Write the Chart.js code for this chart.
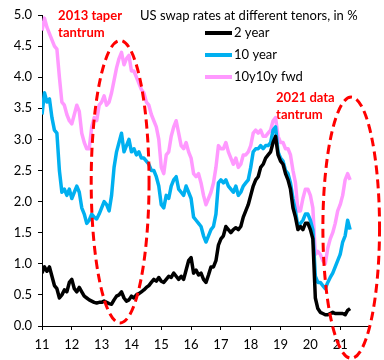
<!DOCTYPE html>
<html>
<head>
<meta charset="utf-8">
<script src="https://cdn.jsdelivr.net/npm/chart.js@4.4.1/dist/chart.umd.min.js"></script>
<style>
  html, body { margin: 0; padding: 0; background: #fff; }
  #wrap { width: 384px; height: 360px; }
</style>
</head>
<body>
<div id="wrap"><canvas id="chart" width="384" height="360"></canvas></div>
<script>
// monthly observations, first one = Jan 2011 (axis shows two-digit years)
const startYear = 11;
const xTickLabels = [11, 12, 13, 14, 15, 16, 17, 18, 19, 20, 21];
const yTickLabels = ['0.0','0.5','1.0','1.5','2.0','2.5','3.0','3.5','4.0','4.5','5.0'];
const seriesNames = ['2 year', '10 year', '10y10y fwd'];
const seriesColors = ['#000000', '#00B0F0', '#FF99FF'];
const chartTitle = 'US swap rates at different tenors, in %';

const swap2y = [
  0.85,0.95,0.88,0.95,0.80,0.65,0.60,0.45,0.50,0.58,0.55,0.70,
  0.75,0.60,0.55,0.62,0.55,0.48,0.45,0.42,0.40,0.38,0.37,0.38,
  0.38,0.40,0.38,0.36,0.35,0.42,0.48,0.50,0.55,0.45,0.40,0.42,
  0.48,0.45,0.50,0.52,0.55,0.58,0.62,0.65,0.70,0.75,0.72,0.78,
  0.72,0.70,0.75,0.80,0.78,0.85,0.80,0.75,0.80,0.75,0.90,1.05,
  1.10,0.85,0.90,0.82,0.85,0.75,0.70,0.82,0.95,0.95,1.05,1.30,
  1.40,1.45,1.60,1.55,1.50,1.55,1.58,1.55,1.60,1.75,1.85,1.95,
  2.10,2.25,2.35,2.40,2.55,2.60,2.70,2.75,2.80,2.95,3.05,2.75,
  2.65,2.60,2.45,2.35,2.20,1.90,1.75,1.55,1.60,1.55,1.65,1.65,
  1.55,1.40,0.45,0.28,0.22,0.20,0.18,0.18,0.20,0.22,0.20,0.20,
  0.20,0.20,0.18,0.25,0.28
];
const swap10y = [
  3.40,3.75,3.60,3.65,3.35,3.15,3.10,2.50,2.15,2.20,2.10,2.20,
  2.05,2.15,2.25,2.15,1.90,1.80,1.65,1.70,1.80,1.75,1.72,1.80,
  1.90,2.00,1.95,1.85,2.10,2.55,2.80,2.95,3.10,2.80,2.90,3.00,
  2.80,2.85,2.75,2.80,2.70,2.70,2.65,2.60,2.50,2.50,2.40,2.25,
  1.95,1.90,2.10,2.05,2.25,2.35,2.40,2.20,2.15,2.10,2.25,2.15,
  2.05,1.75,1.70,1.65,1.60,1.45,1.35,1.45,1.55,1.60,1.80,2.30,
  2.35,2.30,2.35,2.25,2.20,2.15,2.25,2.10,2.15,2.25,2.30,2.35,
  2.55,2.80,2.85,2.85,2.90,2.85,2.90,2.90,2.95,3.15,3.20,2.80,
  2.70,2.65,2.50,2.45,2.30,2.05,1.85,1.60,1.65,1.70,1.80,1.80,
  1.70,1.55,0.80,0.70,0.70,0.65,0.60,0.70,0.78,0.85,0.95,1.05,
  1.15,1.35,1.45,1.70,1.55
];
const fwd10y10y = [
  4.75,4.95,4.80,4.70,4.60,4.50,4.45,4.00,3.60,3.55,3.40,3.30,
  3.25,3.40,3.55,3.45,3.10,2.95,2.85,2.85,3.20,3.35,3.30,3.55,
  3.60,3.70,3.55,3.60,3.75,3.95,4.15,4.30,4.40,4.20,4.30,4.35,
  4.10,4.10,4.00,3.90,3.80,3.75,3.60,3.55,3.40,3.30,3.20,3.00,
  2.55,2.45,2.75,2.80,3.05,3.20,3.30,3.10,2.90,2.85,2.95,2.80,
  2.70,2.45,2.40,2.45,2.30,2.10,1.95,2.05,2.15,2.30,2.55,2.90,
  2.85,2.85,2.95,2.80,2.70,2.60,2.70,2.55,2.60,2.75,2.75,2.80,
  2.90,3.10,3.15,3.10,3.15,3.05,3.05,3.10,3.15,3.30,3.35,3.05,
  2.95,2.95,2.85,2.85,2.75,2.50,2.30,1.85,1.85,2.05,2.20,2.20,
  2.10,1.90,1.15,1.20,1.15,1.05,1.00,1.25,1.40,1.50,1.65,1.85,
  1.95,2.10,2.35,2.45,2.35
];

// red dashed rings, in data units (centre year, centre rate, half-widths)
const tantrums = [
  { x: 13.62, y: 2.32, rx: 0.97, ry: 2.27, text: ['2013 taper', 'tantrum'], tx: 11.54, ty: 4.99 },
  { x: 21.37, y: 1.58, rx: 0.95, ry: 2.10, text: ['2021 data', 'tantrum'], tx: 18.85, ty: 3.67 }
];

const toPoints = arr => arr.map((v, i) => ({ x: startYear + i / 12, y: v }));
const allSeries = [swap2y, swap10y, fwd10y10y];

const overlayPlugin = {
  id: 'overlay',
  afterDatasetsDraw(chart) {
    const { ctx, scales: { x, y } } = chart;
    ctx.save();
    ctx.strokeStyle = '#FF0000';
    ctx.lineWidth = 3;
    ctx.setLineDash([9, 5]);
    tantrums.forEach(t => {
      const cx = x.getPixelForValue(t.x);
      const cy = y.getPixelForValue(t.y);
      const rx = Math.abs(x.getPixelForValue(t.x + t.rx) - cx);
      const ry = Math.abs(y.getPixelForValue(t.y + t.ry) - cy);
      ctx.beginPath();
      ctx.ellipse(cx, cy, rx, ry, 0, 0, Math.PI * 2);
      ctx.stroke();
    });
    ctx.setLineDash([]);
    ctx.fillStyle = '#FF0000';
    ctx.font = 'bold 13px Lato';
    ctx.textBaseline = 'middle';
    tantrums.forEach(t => {
      const px = x.getPixelForValue(t.tx);
      const py = y.getPixelForValue(t.ty);
      t.text.forEach((line, k) => ctx.fillText(line, px, py + k * 17));
    });
    ctx.restore();
  },
  afterDraw(chart) {
    const { ctx } = chart;
    ctx.save();
    ctx.fillStyle = '#000';
    ctx.font = '13px Lato';
    ctx.textBaseline = 'middle';
    ctx.fillText(chartTitle, 140, 16);
    // legend
    chart.data.datasets.forEach((ds, i) => {
      const ly = 33 + i * 22;
      ctx.strokeStyle = ds.borderColor;
      ctx.lineWidth = 4;
      ctx.beginPath();
      ctx.moveTo(205, ly);
      ctx.lineTo(232, ly);
      ctx.stroke();
      ctx.fillText(ds.label, 234, ly);
    });
    ctx.restore();
  }
};

new Chart(document.getElementById('chart'), {
  type: 'line',
  data: {
    datasets: allSeries.map((arr, i) => ({
      label: seriesNames[i],
      data: toPoints(arr),
      borderColor: seriesColors[i],
      borderWidth: 3.5,
      pointRadius: 0,
      tension: 0,
      borderJoinStyle: 'round'
    }))
  },
  options: {
    responsive: false,
    animation: false,
    layout: { padding: { top: 15, right: 14, left: 0, bottom: 0 } },
    plugins: { legend: { display: false }, tooltip: { enabled: false } },
    scales: {
      x: {
        type: 'linear',
        min: 11,
        max: 22,
        afterFit: s => { s.height = 34; },
        afterBuildTicks: s => { s.ticks = xTickLabels.concat([22]).map(v => ({ value: v })); },
        ticks: {
          color: '#000',
          font: { family: 'Lato', size: 13 },
          padding: 7,
          maxRotation: 0,
          callback: v => (xTickLabels.includes(v) ? String(v) : '')
        },
        grid: {
          drawOnChartArea: false,
          tickLength: 4,
          tickColor: c => (c.tick && c.tick.value > 21 ? 'rgba(0,0,0,0)' : '#000')
        },
        border: { color: '#000', width: 1 }
      },
      y: {
        min: 0,
        max: 5,
        afterFit: s => { s.width = 42; },
        afterBuildTicks: s => { s.ticks = yTickLabels.map(v => ({ value: parseFloat(v) })); },
        ticks: {
          color: '#000',
          font: { family: 'Lato', size: 13 },
          padding: 6,
          callback: v => v.toFixed(1)
        },
        grid: { drawOnChartArea: false, tickLength: 4, tickColor: '#000' },
        border: { color: '#000', width: 1 }
      }
    }
  },
  plugins: [overlayPlugin]
});
</script>
</body>
</html>
